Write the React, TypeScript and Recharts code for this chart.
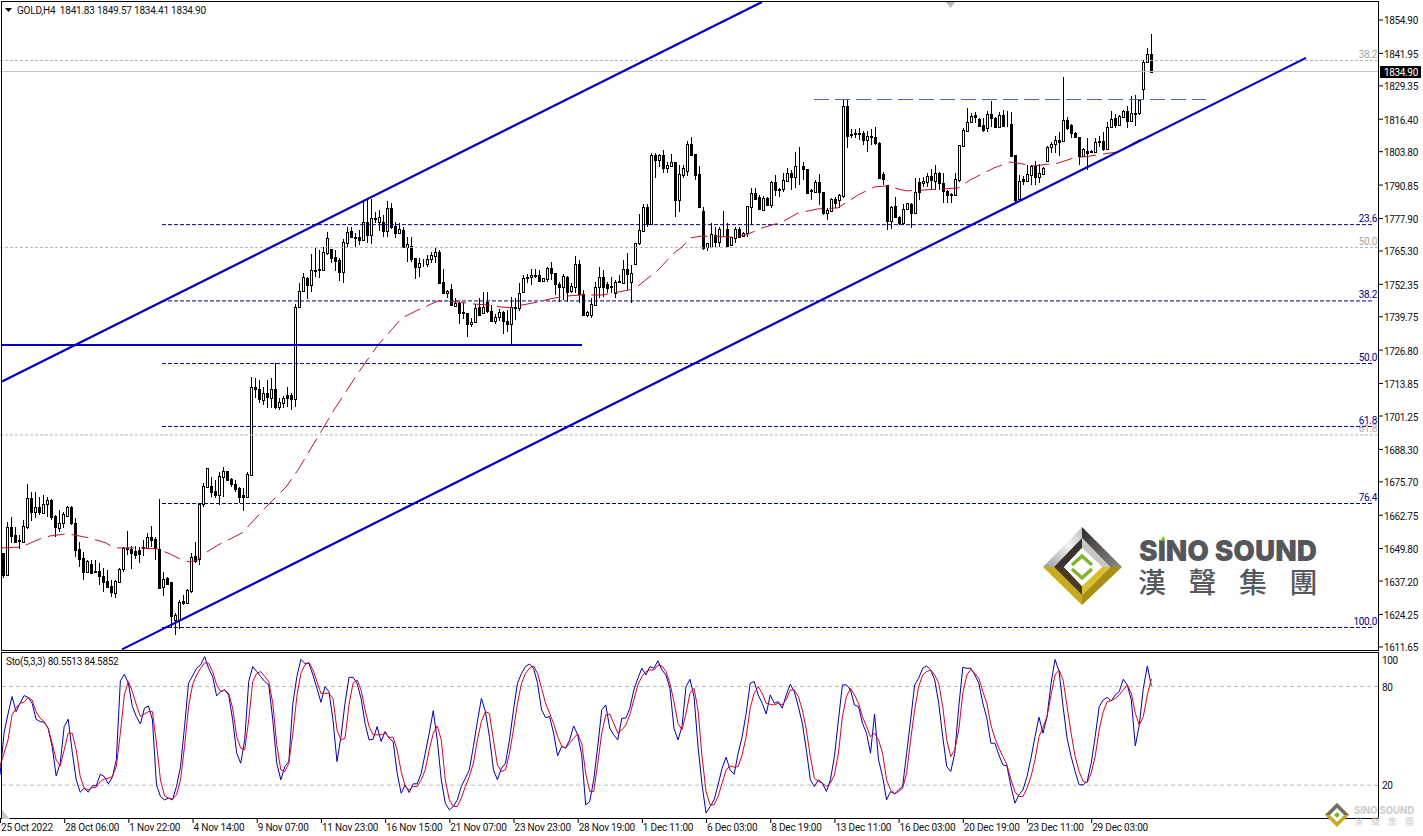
import { Bar, ComposedChart, Line, ReferenceLine, XAxis, YAxis } from "recharts";

// GOLD H4, one entry per candle, prices
const bodyTop = [
  1648.0,1658.1,1658.1,1655.1,1653.1,1658.6,1669.3,1669.3,1665.8,1665.8,
  1667.1,1668.7,1668.7,1662.5,1659.6,1663.2,1666.1,1666.1,1659.6,1649.5,
  1646.2,1645.0,1643.7,1641.1,1641.1,1639.2,1637.2,1635.4,1637.2,1641.8,
  1650.2,1650.2,1649.6,1648.9,1649.3,1650.4,1654.2,1654.2,1653.5,1649.5,
  1637.9,1638.3,1636.8,1624.0,1629.0,1629.6,1633.8,1646.7,1646.9,1667.1,
  1674.1,1680.9,1674.2,1672.3,1678.0,1679.9,1679.9,1676.8,1674.9,1673.2,
  1670.6,1678.6,1712.5,1712.6,1711.6,1710.1,1710.1,1711.6,1711.6,1706.8,
  1708.1,1709.4,1709.4,1743.4,1749.9,1755.1,1754.7,1757.9,1758.0,1758.2,
  1765.0,1770.2,1765.9,1762.8,1761.8,1768.9,1772.8,1773.2,1770.7,1770.6,
  1776.4,1776.4,1777.9,1778.0,1778.6,1776.6,1781.8,1781.8,1775.0,1773.7,
  1773.4,1767.9,1767.2,1762.4,1760.5,1760.3,1762.2,1763.7,1764.8,1765.0,
  1753.4,1749.8,1750.4,1745.0,1745.2,1741.5,1741.1,1737.6,1743.0,1743.4,
  1743.7,1745.6,1742.1,1739.5,1741.5,1741.5,1738.2,1743.4,1743.7,1749.1,
  1754.7,1755.0,1756.0,1755.8,1756.0,1754.7,1758.8,1758.8,1756.6,1752.5,
  1755.7,1755.3,1751.7,1760.1,1760.1,1748.6,1741.6,1744.7,1751.4,1755.1,
  1755.3,1752.3,1751.5,1753.4,1753.5,1758.3,1758.3,1756.9,1768.3,1773.4,
  1782.2,1782.2,1802.5,1802.5,1802.5,1802.5,1798.6,1799.7,1799.7,1795.0,
  1797.3,1806.8,1806.8,1802.9,1795.1,1780.8,1768.3,1771.9,1771.5,1773.8,
  1773.9,1773.8,1770.6,1773.8,1773.8,1772.4,1782.7,1787.6,1787.6,1786.4,
  1786.0,1785.7,1792.2,1792.2,1789.3,1792.8,1795.7,1795.4,1798.3,1798.4,
  1798.3,1797.0,1788.9,1792.2,1791.9,1788.0,1781.2,1785.5,1785.5,1787.0,
  1821.5,1821.5,1810.6,1811.0,1811.0,1811.2,1809.9,1809.7,1809.4,1807.3,
  1795.1,1790.9,1782.5,1782.7,1778.6,1781.4,1783.8,1783.4,1788.3,1791.9,
  1792.4,1794.4,1794.4,1795.4,1795.7,1791.8,1788.7,1787.3,1793.1,1806.4,
  1812.2,1815.2,1817.6,1818.0,1816.4,1814.2,1818.4,1818.4,1816.7,1818.0,
  1818.0,1814.6,1814.5,1802.5,1792.6,1793.1,1795.2,1798.3,1798.3,1795.4,
  1797.6,1805.8,1806.8,1808.4,1808.4,1816.1,1816.1,1814.2,1810.9,1809.4,
  1804.7,1804.2,1803.9,1807.4,1807.8,1807.9,1813.3,1816.4,1816.8,1817.7,
  1819.7,1819.7,1818.7,1818.9,1823.9,1838.7,1841.7,1841.83,
];
const bodyBottom = [
  1639.6,1639.6,1654.7,1652.5,1652.6,1652.5,1658.1,1664.1,1664.1,1664.1,
  1663.7,1667.0,1661.9,1658.1,1657.9,1659.6,1662.5,1659.6,1649.3,1645.9,
  1640.9,1640.7,1640.5,1640.7,1639.2,1637.0,1635.0,1633.1,1632.7,1637.0,
  1641.8,1649.6,1648.0,1647.3,1647.7,1649.9,1650.2,1653.1,1649.9,1634.4,
  1635.0,1636.1,1623.7,1622.1,1622.1,1628.6,1628.6,1633.4,1645.1,1645.6,
  1667.1,1673.8,1671.6,1670.6,1670.6,1677.7,1676.4,1674.9,1672.8,1669.7,
  1669.7,1670.0,1678.4,1711.7,1707.7,1707.5,1708.5,1708.3,1704.9,1704.9,
  1706.4,1708.1,1707.9,1707.9,1743.4,1749.9,1752.1,1752.1,1757.7,1758.0,
  1757.9,1764.6,1762.4,1761.5,1757.2,1757.2,1768.5,1770.8,1770.4,1769.5,
  1769.5,1771.5,1771.5,1777.7,1776.4,1773.2,1773.2,1774.7,1772.1,1772.4,
  1766.7,1767.0,1762.2,1759.2,1759.2,1760.1,1760.2,1762.2,1763.5,1753.0,
  1748.9,1748.9,1744.3,1743.9,1741.4,1741.3,1736.8,1736.8,1737.6,1740.4,
  1741.4,1742.1,1738.2,1738.2,1739.8,1738.2,1736.8,1736.8,1743.3,1743.3,
  1749.4,1754.8,1755.1,1755.6,1753.6,1753.8,1754.4,1756.6,1752.3,1751.4,
  1751.4,1749.5,1749.8,1751.4,1748.6,1740.3,1740.3,1740.3,1744.5,1751.4,
  1751.4,1750.8,1751.2,1748.9,1753.3,1753.0,1756.4,1753.4,1760.1,1768.3,
  1773.2,1775.8,1775.8,1800.6,1800.6,1797.6,1797.6,1798.3,1785.1,1785.1,
  1794.8,1796.4,1802.5,1794.8,1782.2,1766.3,1766.7,1767.0,1768.9,1768.9,
  1773.7,1767.2,1767.5,1770.2,1770.8,1771.1,1772.1,1782.5,1785.5,1781.4,
  1781.2,1783.1,1783.1,1788.9,1789.1,1789.3,1792.6,1794.1,1794.1,1798.2,
  1797.0,1787.6,1788.6,1788.0,1788.0,1780.2,1780.2,1780.9,1783.8,1785.1,
  1786.6,1809.9,1810.4,1810.8,1810.7,1808.3,1808.3,1809.5,1807.0,1793.5,
  1793.1,1777.0,1777.0,1778.3,1776.0,1776.0,1781.4,1780.2,1780.2,1788.3,
  1791.5,1792.2,1792.8,1792.6,1791.5,1788.7,1787.0,1787.1,1787.0,1792.8,
  1806.0,1812.0,1815.2,1817.4,1813.9,1812.2,1812.9,1816.7,1813.5,1813.5,
  1813.8,1814.4,1802.3,1785.1,1785.4,1792.6,1792.4,1794.8,1794.1,1794.1,
  1795.2,1800.2,1805.8,1806.8,1807.7,1808.0,1812.9,1810.9,1809.4,1802.2,
  1802.2,1803.4,1803.6,1803.8,1807.6,1804.7,1804.7,1813.3,1814.2,1814.2,
  1817.4,1815.9,1815.7,1818.4,1818.7,1828.1,1838.5,1834.9,
];
const highs = [
  1648.0,1660.2,1661.9,1658.1,1655.1,1660.9,1674.9,1671.9,1671.9,1669.9,
  1670.6,1669.7,1668.9,1662.7,1664.8,1664.1,1666.3,1666.3,1661.5,1652.5,
  1648.6,1645.2,1645.4,1645.4,1644.1,1642.2,1641.5,1637.6,1637.6,1642.2,
  1650.4,1656.8,1650.8,1650.8,1650.6,1653.1,1656.0,1658.6,1654.4,1668.9,
  1640.7,1638.9,1637.0,1624.7,1629.9,1631.8,1634.0,1648.2,1652.5,1667.3,
  1675.4,1681.2,1677.7,1676.4,1679.7,1681.3,1680.1,1677.3,1676.4,1673.8,
  1673.2,1679.7,1716.4,1715.9,1715.2,1712.6,1715.2,1715.9,1721.9,1708.1,
  1709.0,1712.6,1710.1,1744.7,1752.7,1756.9,1755.1,1764.1,1766.3,1765.7,
  1766.7,1772.5,1766.0,1765.7,1762.4,1769.8,1774.5,1774.5,1772.4,1773.4,
  1784.4,1785.1,1785.3,1780.5,1781.2,1779.2,1784.7,1784.0,1776.6,1776.0,
  1774.7,1770.8,1770.8,1762.5,1762.4,1762.0,1763.7,1765.0,1767.0,1765.7,
  1758.2,1750.1,1752.5,1746.9,1745.6,1745.0,1741.4,1739.2,1744.7,1746.9,
  1749.5,1749.5,1744.3,1740.8,1742.6,1741.8,1742.4,1747.3,1746.9,1752.7,
  1756.0,1756.4,1758.2,1758.2,1757.9,1754.9,1759.2,1761.1,1756.7,1753.4,
  1756.4,1755.4,1753.0,1763.3,1761.8,1750.2,1742.1,1746.9,1753.4,1759.2,
  1757.9,1753.4,1755.3,1754.0,1756.0,1761.8,1764.4,1759.9,1768.5,1779.6,
  1783.5,1783.5,1803.2,1803.4,1802.9,1804.5,1799.9,1802.9,1799.8,1798.6,
  1798.6,1807.9,1809.4,1803.0,1798.3,1782.5,1768.5,1776.0,1774.7,1774.7,
  1780.8,1776.0,1770.8,1774.7,1774.7,1772.8,1782.8,1789.6,1789.6,1787.0,
  1786.7,1786.4,1792.3,1794.8,1789.9,1795.4,1797.4,1796.7,1803.8,1805.8,
  1799.9,1797.1,1789.3,1792.8,1795.1,1788.3,1781.8,1785.7,1786.1,1787.2,
  1823.9,1823.9,1812.5,1812.5,1812.9,1812.0,1812.0,1812.5,1813.5,1807.4,
  1796.0,1791.0,1782.6,1786.1,1778.9,1783.5,1784.0,1783.8,1793.5,1793.5,
  1793.9,1795.4,1796.9,1798.6,1796.0,1795.4,1788.9,1787.7,1795.4,1806.5,
  1812.9,1820.6,1818.7,1819.3,1816.7,1816.7,1819.7,1823.5,1817.4,1819.3,
  1820.0,1819.7,1819.3,1802.6,1794.8,1794.4,1798.6,1798.6,1800.2,1799.0,
  1798.0,1806.2,1807.7,1809.7,1811.3,1832.7,1817.2,1814.6,1811.6,1809.5,
  1805.1,1809.0,1804.5,1809.0,1809.9,1811.6,1815.5,1819.7,1818.4,1818.1,
  1820.0,1821.7,1825.4,1825.8,1824.1,1839.4,1843.9,1849.57,
];
const lows = [
  1638.3,1639.0,1651.9,1651.9,1649.5,1652.1,1657.3,1660.5,1661.5,1662.8,
  1663.2,1661.9,1660.9,1654.4,1656.4,1657.7,1661.9,1659.0,1646.4,1642.8,
  1637.6,1640.5,1640.2,1640.2,1635.7,1633.1,1634.4,1630.9,1630.5,1636.3,
  1640.9,1647.3,1641.8,1645.6,1644.1,1646.9,1649.9,1650.6,1645.4,1634.2,
  1631.6,1635.7,1619.5,1616.3,1618.6,1627.9,1628.3,1632.5,1644.4,1643.4,
  1665.8,1673.2,1670.0,1669.3,1666.7,1670.0,1676.2,1673.8,1671.9,1667.4,
  1664.5,1669.3,1678.0,1708.1,1706.2,1705.5,1704.2,1704.2,1703.9,1703.6,
  1704.2,1704.9,1703.6,1704.9,1743.3,1749.5,1746.8,1749.5,1755.3,1754.9,
  1757.7,1763.7,1760.5,1757.5,1753.8,1753.0,1766.3,1770.2,1766.7,1767.6,
  1769.4,1768.2,1767.9,1776.0,1773.2,1770.6,1770.8,1773.7,1770.2,1771.9,
  1766.3,1761.1,1761.1,1754.3,1755.1,1759.2,1758.9,1760.5,1760.5,1752.9,
  1748.7,1746.9,1743.9,1743.7,1736.8,1738.8,1732.0,1735.7,1737.2,1740.0,
  1741.1,1741.4,1737.9,1736.8,1738.1,1733.0,1733.7,1728.8,1738.5,1741.8,
  1748.9,1752.7,1752.1,1754.7,1753.4,1753.6,1753.4,1754.0,1748.2,1745.6,
  1746.3,1745.6,1748.9,1748.9,1745.0,1740.1,1739.8,1739.2,1744.3,1746.9,
  1747.6,1748.9,1748.9,1746.9,1752.7,1752.7,1750.2,1745.0,1759.9,1767.6,
  1772.8,1774.7,1775.6,1793.5,1798.0,1795.4,1795.4,1798.0,1778.6,1780.5,
  1793.5,1794.4,1802.1,1792.8,1782.1,1765.7,1765.4,1766.9,1766.7,1767.0,
  1770.8,1766.7,1767.2,1768.3,1770.7,1770.6,1770.6,1775.4,1785.1,1781.2,
  1780.8,1782.7,1781.8,1786.6,1786.4,1788.3,1792.2,1788.9,1789.6,1790.9,
  1792.8,1787.4,1785.1,1787.6,1783.1,1779.2,1777.3,1780.5,1781.8,1781.8,
  1785.7,1805.1,1809.0,1809.0,1808.3,1806.4,1803.8,1806.4,1806.4,1793.4,
  1790.9,1773.4,1773.7,1777.9,1775.4,1775.4,1781.2,1774.1,1779.9,1785.1,
  1790.2,1790.2,1789.2,1789.0,1789.0,1783.8,1783.8,1784.0,1786.6,1792.2,
  1805.8,1811.6,1814.8,1815.1,1813.5,1811.6,1811.6,1813.3,1813.3,1813.1,
  1813.5,1813.5,1802.2,1784.4,1785.1,1790.9,1792.2,1790.9,1790.9,1791.5,
  1794.8,1799.9,1803.2,1803.2,1802.3,1807.7,1812.2,1809.0,1809.0,1798.7,
  1801.9,1796.7,1803.2,1803.2,1805.8,1804.2,1804.5,1812.9,1812.9,1813.8,
  1817.2,1812.9,1815.5,1813.9,1818.0,1824.1,1838.1,1834.41,
];
// 1 = white (rising) candle, 0 = black
const upCandle = [
  0,1,0,0,0,1,1,0,1,0, 1,1,0,0,1,1,1,0,0,0, 0,1,0,0,0,0,0,0,1,1, 1,0,0,0,0,0,1,0,0,0,
  1,0,0,1,1,0,1,1,0,1, 1,1,0,0,1,1,0,0,0,0, 0,1,1,0,0,1,0,1,0,1, 1,0,0,1,1,1,0,1,0,1,
  1,1,0,0,0,1,1,0,0,0, 1,0,1,1,1,0,1,0,0,1, 0,1,0,0,1,1,1,1,1,0, 0,1,0,1,0,0,0,1,1,0,
  1,0,0,1,1,0,0,1,0,1, 1,1,1,1,0,1,1,0,0,0, 1,0,1,1,0,0,1,1,1,1, 0,0,0,1,1,1,0,1,1,1,
  1,0,1,0,1,0,1,1,0,1, 1,1,0,0,0,0,1,1,0,1, 1,0,1,1,0,1,1,1,0,0, 1,0,1,0,0,1,1,0,1,1,
  0,0,0,1,0,0,1,1,0,1, 1,0,1,1,1,0,1,1,0,0, 0,0,1,0,0,1,1,0,1,0, 1,1,0,1,0,0,0,0,1,1,
  1,1,1,0,0,0,1,0,0,1, 0,0,0,0,1,0,1,1,0,1, 1,1,1,1,0,1,0,0,0,0, 1,0,0,1,1,0,1,1,0,1,
  1,0,1,0,1,1,1,0,
];

// moving average, read at the bars where it could be made out
const maBars = [
  0,5,6,10,12,16,18,22,26,28,34,39,42,45,47,49,50,54,58,60,64,66,71,74,80,83,89,94,98,100,
  104,109,114,118,122,125,128,130,134,137,141,145,150,158,160,164,168,170,172,175,182,186,190,195,199,
  204,209,214,218,221,226,230,234,239,242,248,252,258,264,268,272,277,279,286,
];
const maValues = [
  1650.1,1650.4,1651.2,1653.9,1654.7,1655.5,1655.1,1653.9,1652.0,1650.1,1650.1,1649.7,1647.7,1645.4,1644.6,1645.4,1647.3,1651.2,1654.3,1655.9,
  1662.5,1665.9,1673.7,1680.3,1695.8,1703.6,1717.9,1728.8,1735.8,1739.3,
  1742.4,1745.9,1745.5,1744.7,1744.3,1743.5,1743.2,1744.3,1745.5,1746.7,1747.8,1748.2,1748.2,1750.5,1752.9,1757.9,1764.5,1766.8,1770.3,1771.1,
  1770.7,1771.5,1774.2,1776.5,1780.0,1781.6,1782.0,1787.0,1790.1,1790.5,1788.6,1788.9,1789.3,1789.7,1792.8,1797.5,1799.8,1798.3,1799.4,1801.4,
  1802.1,1803.3,1803.7,1809.9,
];

// stochastic %K and %D
const stoMain = [
  26.2,51.6,63.3,73.9,64.7,69.8,74.5,73.4,69.8,60.1, 58.7,58.3,54.6,43.5,25.6,33.3,55.6,60.1,40.4,23.2,
  15.7,18.1,15.7,19.6,19.6,26.6,25.2,20.8,24.8,35.4, 83.4,87.4,82.0,67.8,61.7,57.2,66.8,68.2,59.7,20.2,
  13.1,11.0,12.1,11.0,19.2,31.3,55.6,82.0,86.4,91.1, 93.1,98.2,91.1,86.0,74.3,76.9,77.9,74.9,59.7,39.4,
  33.3,47.5,83.0,92.1,89.1,86.0,83.0,81.0,59.7,33.3, 23.2,31.3,34.3,69.8,86.0,96.5,94.1,94.1,87.0,78.9,
  70.4,79.9,76.9,59.7,34.3,49.5,69.8,85.6,85.6,82.0, 72.8,57.6,47.5,47.9,55.6,46.5,52.6,48.5,46.5,27.3,
  15.1,20.2,15.5,20.8,20.8,27.3,39.4,51.6,65.3,47.5, 23.2,9.0,5.0,7.0,11.0,19.2,24.2,29.3,43.5,58.7,
  72.8,64.7,49.5,29.3,23.2,30.3,33.3,47.5,65.8,82.0, 88.0,92.1,93.7,91.1,82.0,65.8,61.1,61.7,51.6,37.8,
  43.5,42.5,47.5,56.0,50.6,38.4,8.0,10.0,23.2,43.5, 65.8,68.8,54.6,50.6,47.5,60.7,60.7,66.8,77.9,85.0,
  91.1,87.0,92.1,91.1,95.7,90.1,87.0,78.9,54.6,47.5, 55.6,79.9,84.4,73.9,43.5,20.2,3.0,7.0,11.0,20.2,
  30.3,37.0,29.3,26.6,39.4,49.5,63.7,82.0,83.0,74.9, 69.8,63.3,74.9,69.8,70.8,66.8,74.9,81.4,76.9,67.8,
  57.6,41.4,23.2,19.2,23.2,21.2,16.1,23.2,37.4,59.7, 81.0,81.0,77.9,68.8,67.8,57.6,51.6,39.4,63.3,35.4,
  25.2,11.0,16.1,14.7,17.1,19.2,39.4,59.7,81.0,85.0, 91.1,92.5,90.1,84.0,69.8,49.5,31.3,28.3,39.4,67.8,
  91.7,91.1,91.1,87.0,82.0,69.8,60.7,45.5,45.5,38.4, 32.3,31.7,19.2,9.0,14.1,17.1,25.2,36.4,49.5,61.3,
  51.6,61.7,82.0,96.5,89.1,67.8,48.5,37.4,28.3,20.2, 20.2,22.2,33.3,49.5,67.8,71.8,73.4,71.2,74.9,76.9,
  84.4,81.0,71.8,43.9,56.6,78.9,92.5,80.55,
];
const stoSignal = [
  31.3,39.4,47.5,62.7,66.8,69.8,70.4,73.4,71.8,64.7, 60.7,58.7,54.6,45.5,35.4,31.7,41.4,51.6,51.6,41.4,
  25.2,18.1,17.1,18.5,18.7,22.2,23.8,24.2,25.2,31.3, 51.6,74.9,83.0,76.9,68.8,61.7,63.3,64.7,64.7,45.5,
  23.2,13.5,12.1,11.5,14.1,23.2,43.5,67.8,81.0,87.0, 91.1,94.5,94.1,89.1,81.0,76.9,77.9,75.9,66.8,49.5,
  42.5,41.4,59.7,83.0,88.0,89.1,86.0,83.0,69.8,44.5, 29.3,28.3,33.3,51.6,73.9,88.0,93.1,94.7,90.1,83.0,
  75.9,75.9,75.9,72.8,53.6,47.5,48.5,68.8,82.0,84.0, 77.9,65.8,55.6,50.6,50.6,50.6,51.6,49.1,49.1,41.4,
  28.3,19.2,17.1,19.2,19.2,23.2,29.3,41.4,51.6,56.0, 47.5,23.2,11.0,7.0,7.0,12.1,19.2,25.2,33.3,47.5,
  58.7,64.7,63.7,47.5,32.3,28.3,29.3,39.4,53.6,69.8, 82.0,88.0,91.1,92.5,88.0,78.9,69.8,63.7,57.6,49.5,
  43.9,42.5,45.5,48.5,51.2,45.5,27.3,16.1,16.1,33.3, 51.6,62.7,63.3,57.6,51.6,53.6,56.6,62.7,71.8,81.0,
  86.0,89.1,90.1,90.1,93.1,92.5,89.1,82.0,70.8,57.6, 53.6,63.7,75.9,78.9,65.8,37.4,16.1,8.0,8.0,13.1,
  21.2,29.3,31.7,30.9,31.3,38.4,49.5,66.8,75.9,79.9, 75.9,69.8,69.2,68.8,69.8,68.8,72.2,77.9,77.9,73.9,
  65.8,53.6,37.4,24.2,22.2,21.2,19.2,21.2,26.2,39.4, 61.7,73.9,78.9,74.9,69.8,61.7,55.6,49.5,51.6,47.5,
  39.4,23.2,17.1,14.7,16.1,18.1,27.3,47.5,65.8,79.9, 87.0,89.1,90.1,87.0,82.0,67.8,47.5,37.4,41.4,53.6,
  75.9,87.0,90.5,88.0,85.0,76.9,69.8,56.6,48.5,42.5, 37.4,32.3,23.2,16.1,13.1,13.1,18.1,25.2,35.4,49.5,
  55.2,61.7,74.9,87.0,90.1,84.0,67.8,51.6,37.4,28.3, 22.2,21.6,27.3,37.4,53.6,64.7,70.8,71.4,72.8,74.9,
  77.9,81.0,75.9,63.7,56.6,61.7,74.9,84.59,
];

const priceTicks = [
  1854.9,1841.95,1834.9,1829.35,1816.4,1803.8,1790.85,1777.9,1765.3,1752.35,1739.75,
  1726.8,1713.85,1701.25,1688.3,1675.7,1662.75,1649.8,1637.2,1624.25,1611.65,
];
const lastClose = 1834.9;
const stoTicks = [20, 80, 100];
const stoLevels = [20, 80];
const timeTickBars = [0,16,32,48,64,80,96,112,128,144,160,176,192,208,224,240,256,272];
const timeTickLabels = [
  "25 Oct 2022","28 Oct 06:00","1 Nov 22:00","4 Nov 14:00","9 Nov 07:00","11 Nov 23:00",
  "16 Nov 15:00","21 Nov 07:00","23 Nov 23:00","28 Nov 19:00","1 Dec 11:00","6 Dec 03:00",
  "8 Dec 19:00","13 Dec 11:00","16 Dec 03:00","20 Dec 19:00","23 Dec 11:00","29 Dec 03:00",
];

// fibonacci levels drawn on the chart
const fiboLabels = ["23.6", "38.2", "50.0", "61.8", "76.4", "100.0"];
const fiboPrices = [1775.5, 1745.9, 1721.6, 1697.2, 1667.3, 1619.2];
const oldFiboLabels = ["38.2", "50.0", "61.8"];
const oldFiboPrices = [1839.2, 1766.6, 1693.9];

const BAR_SLOTS = 344;
const FONT = "Roboto, sans-serif";

const rows = Array.from({ length: BAR_SLOTS }, (_, i) => {
  const maAt = maBars.indexOf(i);
  return {
    bar: i,
    wick: i < highs.length ? [lows[i], highs[i]] : undefined,
    high: highs[i],
    top: bodyTop[i],
    bottom: bodyBottom[i],
    up: upCandle[i] === 1,
    ma: maAt >= 0 ? maValues[maAt] : undefined,
    main: stoMain[i],
    signal: stoSignal[i],
  };
});

function Candle(props: any) {
  const { x, y, width, height, payload } = props;
  if (!payload || !payload.wick) return null;
  const [low, high] = payload.wick;
  const k = height / (high - low);
  const cx = Math.round(x + width / 2);
  const bodyY1 = Math.round(y + (high - payload.top) * k) + 0.5;
  const bodyY2 = Math.round(y + (high - payload.bottom) * k) + 0.5;
  return (
    <g shapeRendering="crispEdges">
      <line x1={cx + 0.5} x2={cx + 0.5} y1={y} y2={y + height} stroke="#000" />
      <rect
        x={cx - 0.5}
        y={bodyY1}
        width={2}
        height={Math.max(bodyY2 - bodyY1, 0)}
        fill={payload.up ? "#fff" : "#000"}
        stroke="#000"
      />
    </g>
  );
}

const tickText = { fontFamily: FONT, fontSize: 10, letterSpacing: -0.35, fill: "#111" };
const timeText = { fontFamily: FONT, fontSize: 10, letterSpacing: -0.2, fill: "#111" };

function PriceTick(props: any) {
  const { x, y, payload } = props;
  if (payload.value === lastClose) {
    return (
      <g>
        <rect x={x + 2} y={y - 5.5} width={41} height={12} fill="#000" />
        <text x={x + 6} y={y + 4.5} {...tickText} fill="#fff">
          {payload.value.toFixed(2)}
        </text>
      </g>
    );
  }
  return (
    <g>
      <line x1={x} x2={x + 5} y1={y} y2={y} stroke="#000" />
      <text x={x + 6} y={y + 4.5} {...tickText}>
        {payload.value.toFixed(2)}
      </text>
    </g>
  );
}

function StoTick(props: any) {
  const { x, y, payload } = props;
  const shift = payload.value === 100 ? 6 : 0;
  return (
    <text x={x + 4} y={y + 4 + shift} {...tickText}>
      {payload.value}
    </text>
  );
}

function TimeTick(props: any) {
  const { x, y, payload } = props;
  return (
    <g>
      <line x1={x + 0.5} x2={x + 0.5} y1={y} y2={y + 5} stroke="#000" />
      <text x={x + 1} y={y + 13} {...timeText}>
        {timeTickLabels[timeTickBars.indexOf(payload.value)]}
      </text>
    </g>
  );
}

const levelLabel = (text: string, color: string) => (props: any) => (
  <text
    x={1377}
    y={props.viewBox.y - 2.5}
    textAnchor="end"
    fontFamily={FONT}
    fontSize={10}
    letterSpacing={-0.3}
    fill={color}
  >
    {text}
  </text>
);

function Watermark() {
  return (
    <svg
      width={1423}
      height={836}
      style={{ position: "absolute", left: 0, top: 0, pointerEvents: "none" }}
    >
      <defs>
        <linearGradient id="silver" x1="0" y1="1" x2="1" y2="0">
          <stop offset="0" stopColor="#9c9c9c" />
          <stop offset="0.6" stopColor="#f4f4f4" />
          <stop offset="1" stopColor="#bcbcbc" />
        </linearGradient>
        <linearGradient id="dark" x1="0" y1="0" x2="1" y2="1">
          <stop offset="0" stopColor="#2f2b29" />
          <stop offset="1" stopColor="#8d8a88" />
        </linearGradient>
      </defs>
      {/* frame of the two panes */}
      <g fill="none" stroke="#000" shapeRendering="crispEdges">
        <rect x={1.5} y={1.5} width={1377} height={649} />
        <rect x={1.5} y={652.5} width={1377} height={166} />
      </g>
      <polygon points="946,2 955,2 950.5,8" fill="#b8b8b8" />
      <polygon points="2,810 2,819 10,819" fill="#c8c8c8" />
      <polygon points="5,8 12,8 8.5,12" fill="#000" />
      <text x={17} y={14} {...timeText} letterSpacing={-0.22} style={{ whiteSpace: "pre" }}>
        {"GOLD,H4  1841.83 1849.57 1834.41 1834.90"}
      </text>
      <text x={6} y={665} {...timeText} letterSpacing={-0.3} style={{ whiteSpace: "pre" }}>
        {"Sto(5,3,3) 80.5513 84.5852"}
      </text>

      {/* Sino Sound logo */}
      <polygon points="1082,527 1043,567 1054,567 1082,538" fill="url(#silver)" />
      <polygon points="1082,527 1122,567 1110,567 1082,538" fill="url(#dark)" />
      <polygon points="1043,567 1082,605 1082,595 1054,567" fill="#c8aa1c" />
      <polygon points="1122,567 1082,605 1082,595 1110,567" fill="#a88e12" />
      <polygon points="1082,538 1054,567 1064,567 1082,548" fill="#3a3330" />
      <polygon points="1082,538 1110,567 1102,567 1082,548" fill="#c9c7c5" />
      <polygon points="1054,567 1082,595 1082,586 1064,567" fill="#4a3a1e" />
      <polygon points="1110,567 1082,595 1082,586 1102,567" fill="#d8bd2c" />
      <polygon points="1082,548 1064,567 1082,586 1102,567" fill="#fff" />
      <polyline points="1072,565 1082,556 1092,565" fill="none" stroke="#7fb52c" strokeWidth={3.5} />
      <polyline points="1072,569 1082,578 1092,569" fill="none" stroke="#7fb52c" strokeWidth={3.5} />
      <text
        x={1139}
        y={561}
        fontFamily="Inter, sans-serif"
        fontWeight={900}
        fontSize={29}
        fill="#54575b"
        textLength={178}
        lengthAdjust="spacingAndGlyphs"
      >
        SINO SOUND
      </text>
      <polygon points="1160,541 1164,536 1165,541" fill="#7fb52c" />
      <text
        x={1138}
        y={593}
        fontFamily="'Noto Sans CJK TC', sans-serif"
        fontWeight={500}
        fontSize={28}
        letterSpacing={22.5}
        fill="#54575b"
      >
        漢聲集團
      </text>

      {/* small corner mark */}
      <polygon points="1337,803 1325,815 1337,827 1349,815" fill="#c8aa1c" />
      <polygon points="1337,803 1325,815 1349,815" fill="#6f6c6a" />
      <polygon points="1337,808 1330,815 1337,822 1344,815" fill="#fff" />
      <polygon points="1337,812 1334,815 1337,818 1340,815" fill="#7fb52c" />
      <text
        x={1354}
        y={814}
        fontFamily="Inter, sans-serif"
        fontWeight={800}
        fontSize={10}
        fill="#d0d0d0"
        textLength={60}
        lengthAdjust="spacingAndGlyphs"
      >
        SINO SOUND
      </text>
      <text
        x={1354}
        y={825}
        fontFamily="'Noto Sans CJK TC', sans-serif"
        fontSize={9}
        letterSpacing={8}
        fill="#d0d0d0"
      >
        漢聲集團
      </text>
    </svg>
  );
}

export default function App() {
  return (
    <div style={{ position: "absolute", left: 0, top: 0, width: 1423, height: 836, background: "#fff" }}>
      <div style={{ position: "absolute", left: 0, top: 0 }}>
        <ComposedChart
          width={1423}
          height={661}
          data={rows}
          margin={{ top: 1, right: 0, bottom: 11, left: 0 }}
        >
          <XAxis dataKey="bar" type="category" hide padding={{ left: 0, right: 2 }} />
          <YAxis
            orientation="right"
            width={45}
            domain={[1610.46, 1862.27]}
            allowDataOverflow
            ticks={priceTicks}
            interval={0}
            axisLine={false}
            tickLine={false}
            tickSize={0}
            tickMargin={0}
            tick={<PriceTick />}
          />
          <ReferenceLine y={lastClose} stroke="#c4c4c4" />
          {oldFiboPrices.map((p, i) => (
            <ReferenceLine
              key={p}
              y={p}
              stroke="#b4b4b4"
              strokeDasharray="3 2"
              label={levelLabel(oldFiboLabels[i], "#a8a8a8")}
            />
          ))}
          {fiboPrices.map((p, i) => (
            <ReferenceLine
              key={p}
              segment={[
                { x: 40, y: p },
                { x: 343, y: p },
              ]}
              stroke="#000090"
              strokeDasharray="4 2"
              label={levelLabel(fiboLabels[i], "#000090")}
            />
          ))}
          <Line
            dataKey="ma"
            connectNulls
            dot={false}
            stroke="#c8102e"
            strokeWidth={1}
            strokeDasharray="17 7"
            isAnimationActive={false}
          />
          <Bar dataKey="wick" barSize={3} shape={<Candle />} isAnimationActive={false} />
          <ReferenceLine
            segment={[
              { x: 203, y: 1824.05 },
              { x: 301, y: 1824.05 },
            ]}
            stroke="#4f64b8"
            strokeDasharray="15 6"
          />
          <ReferenceLine
            segment={[
              { x: 0, y: 1728.8 },
              { x: 145, y: 1728.8 },
            ]}
            stroke="#0000c0"
            strokeWidth={2.2}
          />
          <ReferenceLine
            segment={[
              { x: 0, y: 1714.6 },
              { x: 190, y: 1861.9 },
            ]}
            stroke="#0000c0"
            strokeWidth={2.2}
          />
          <ReferenceLine
            segment={[
              { x: 30, y: 1610.7 },
              { x: 326, y: 1840.2 },
            ]}
            stroke="#0000c0"
            strokeWidth={2.2}
          />
        </ComposedChart>
      </div>
      <div style={{ position: "absolute", left: 0, top: 651 }}>
        <ComposedChart
          width={1423}
          height={185}
          data={rows}
          margin={{ top: 1, right: 0, bottom: 0, left: 0 }}
        >
          <XAxis
            dataKey="bar"
            type="category"
            height={18}
            padding={{ left: 0, right: 2 }}
            ticks={timeTickBars}
            interval={0}
            axisLine={false}
            tickLine={false}
            tickSize={0}
            tickMargin={0}
            tick={<TimeTick />}
          />
          <YAxis
            orientation="right"
            width={45}
            domain={[0, 101]}
            allowDataOverflow
            ticks={stoTicks}
            interval={0}
            axisLine={false}
            tickLine={false}
            tickSize={0}
            tickMargin={0}
            tick={<StoTick />}
          />
          {stoLevels.map((v) => (
            <ReferenceLine key={v} y={v} stroke="#bcbcbc" strokeDasharray="4 3" />
          ))}
          <Line dataKey="main" dot={false} stroke="#0000b4" strokeWidth={1} isAnimationActive={false} />
          <Line dataKey="signal" dot={false} stroke="#e0001c" strokeWidth={1} isAnimationActive={false} />
        </ComposedChart>
      </div>
      <Watermark />
    </div>
  );
}
